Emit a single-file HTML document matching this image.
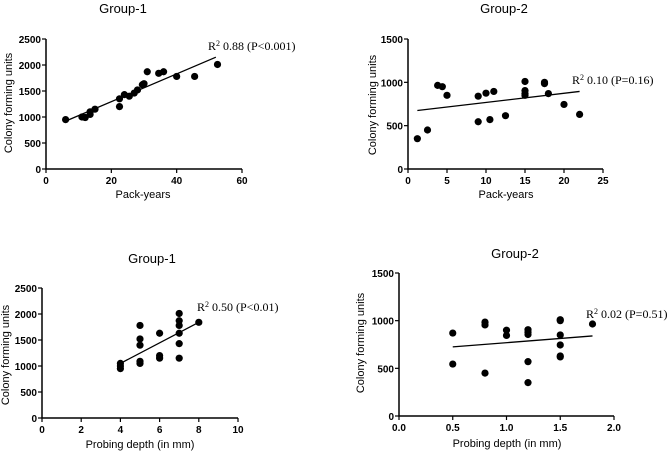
<!DOCTYPE html>
<html><head><meta charset="utf-8"><style>
body{margin:0;background:#fff}
svg{display:block;font-family:"Liberation Sans",Arial,sans-serif}
.tick{font-size:10px;font-weight:bold}
.lab{font-size:11px}
.ttl{font-size:13px}
.r2{font-family:"Liberation Serif",serif;font-size:12px}
</style></head><body>
<svg id="svg" width="669" height="451" viewBox="0 0 669 451"></svg>
<script>
// Panel A: Group-1 pack-years
const aX=[6,11,12,13.5,13.5,15,22.5,22.5,24,25.5,27,28,29.5,30,31,34.5,36,40,45.5,52.5];
const aY=[950,1000,990,1050,1100,1150,1200,1350,1430,1400,1460,1520,1620,1640,1870,1840,1870,1780,1780,2010];
const aFit=[[6,920],[52,2150]];
const aXT=[0,20,40,60];const aYT=[0,500,1000,1500,2000,2500];
// Panel B: Group-2 pack-years
const bX=[1.2,2.5,3.8,4.4,5,9,9,10,10.5,11,12.5,15,15,15,15,17.5,17.5,18,20,22];
const bY=[350,450,965,950,850,840,545,875,570,895,615,1010,905,870,850,1000,985,870,745,630];
const bFit=[[1.2,675],[22,895]];
const bXT=[0,5,10,15,20,25];const bYT=[0,500,1000,1500];
// Panel C: Group-1 probing depth
const cX=[4,4,4,5,5,5,5,5,6,6,6,7,7,7,7,7,7,8];
const cY=[950,1000,1050,1780,1520,1400,1090,1050,1630,1200,1150,2010,1870,1780,1630,1430,1150,1840];
const cFit=[[4,1050],[8,1840]];
const cXT=[0,2,4,6,8,10];const cYT=[0,500,1000,1500,2000,2500];
// Panel D: Group-2 probing depth
const dX=[0.5,0.5,0.8,0.8,0.8,1,1,1.2,1.2,1.2,1.2,1.2,1.5,1.5,1.5,1.5,1.5,1.5,1.8];
const dY=[870,545,985,955,450,900,845,905,880,855,570,350,1010,1000,850,745,630,620,965];
const dFit=[[0.5,725],[1.8,840]];
const dXT=["0.0","0.5","1.0","1.5","2.0"];const dYT=[0,500,1000,1500];

const svg=document.getElementById('svg');const NS='http://www.w3.org/2000/svg';
function mk(t,a,p){const e=document.createElementNS(NS,t);for(const k in a)e.setAttribute(k,a[k]);(p||svg).appendChild(e);return e;}
function panel(o){
 const g=mk('g',{});
 
 
 const sx=v=>o.x0+(v-o.xmin)/(o.xmax-o.xmin)*(o.x1-o.x0);
 const sy=v=>o.y0-(v)/(o.ymax)*(o.y0-o.y1);
 const t=mk('text',{x:o.tx,y:o.ty,'text-anchor':'middle',class:'ttl'},g);t.textContent=o.title;
 
 
 const ax=mk('path',{d:`M${o.x0},${o.y1}V${o.y0}H${o.x1}`,stroke:'#000','stroke-width':1.5,fill:'none'},g);
 
 
 o.xt.forEach(v=>{const x=sx(+v);mk('line',{x1:x,x2:x,y1:o.y0,y2:o.y0+4,stroke:'#000','stroke-width':1.2},g);
  const tx=mk('text',{x:x,y:o.y0+15,'text-anchor':'middle',class:'tick'},g);tx.textContent=v;
  
  });
 o.yt.forEach(v=>{const y=sy(v);mk('line',{x1:o.x0-4,x2:o.x0,y1:y,y2:y,stroke:'#000','stroke-width':1.2},g);
  const tx=mk('text',{x:o.x0-5,y:y+4,'text-anchor':'end',class:'tick'},g);tx.textContent=v;
  
  });
 const xl=mk('text',{x:o.xlx,y:o.xly,'text-anchor':'middle',class:'lab'},g);xl.textContent=o.xlab;
 
 
 const yl=mk('text',{x:0,y:0,'text-anchor':'middle',class:'lab',transform:`translate(${o.ylx},${o.yly}) rotate(-90)`},g);yl.textContent='Colony forming units';
 
 
 const f=o.fit;const ln=mk('line',{x1:sx(f[0][0]),y1:sy(f[0][1]),x2:sx(f[1][0]),y2:sy(f[1][1]),stroke:'#000','stroke-width':1.3},g);
 
 
 o.X.forEach((v,i)=>{const c=mk('circle',{cx:sx(v),cy:sy(o.Y[i]),r:3.6,fill:'#000'},g);
  
  });
 const r=mk('text',{x:o.rx,y:o.ry,class:'r2'},g);r.innerHTML='R<tspan font-size="8" dy="-4">2</tspan><tspan dy="4"> '+o.r2+'</tspan>';
 
 
}
panel({name:'chart-group1-pack-years',title:'Group-1',tx:123,ty:13,x0:46,x1:242,xmin:0,xmax:60,y0:169,y1:39,ymax:2500,xt:aXT,yt:aYT,X:aX,Y:aY,fit:aFit,xlab:'Pack-years',xlx:143,xly:198,ylx:12,yly:103,rx:208,ry:50,r2:'0.88 (P<0.001)'});
panel({name:'chart-group2-pack-years',title:'Group-2',tx:504,ty:13,x0:408,x1:603,xmin:0,xmax:25,y0:169,y1:39,ymax:1500,xt:bXT,yt:bYT,X:bX,Y:bY,fit:bFit,xlab:'Pack-years',xlx:506,xly:198,ylx:376,yly:105,rx:572,ry:84,r2:'0.10 (P=0.16)'});
panel({name:'chart-group1-probing-depth',title:'Group-1',tx:152,ty:263,x0:42,x1:238,xmin:0,xmax:10,y0:418,y1:288,ymax:2500,xt:cXT,yt:cYT,X:cX,Y:cY,fit:cFit,xlab:'Probing depth (in mm)',xlx:140,xly:448,ylx:9,yly:355,rx:197,ry:311,r2:'0.50 (P<0.01)'});
panel({name:'chart-group2-probing-depth',title:'Group-2',tx:515,ty:258,x0:399,x1:614,xmin:0,xmax:2,y0:416,y1:273,ymax:1500,xt:dXT,yt:dYT,X:dX,Y:dY,fit:dFit,xlab:'Probing depth (in mm)',xlx:507,xly:447,ylx:364,yly:343,rx:586,ry:318,r2:'0.02 (P=0.51)'});
</script>
</body></html>
